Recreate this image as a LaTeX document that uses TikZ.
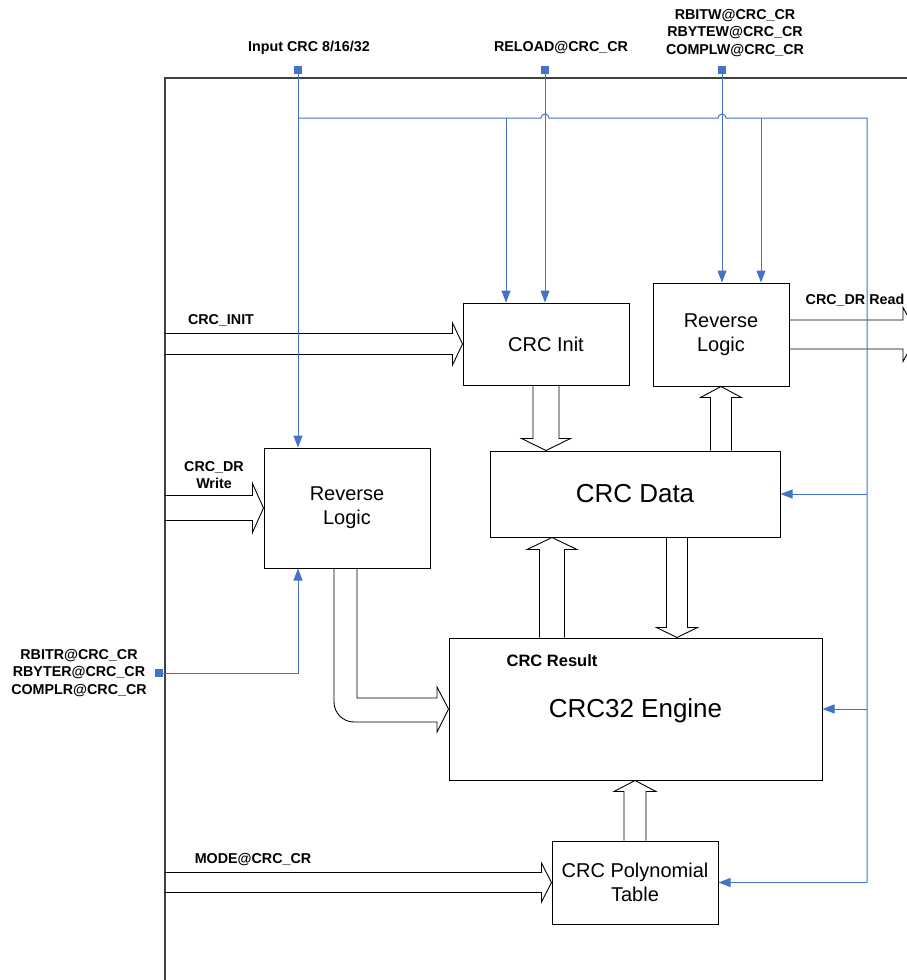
\documentclass[tikz,border=0pt]{standalone}
\usepackage{fontspec}
\setmainfont{Liberation Sans}
\usetikzlibrary{calc,arrows.meta}
\definecolor{linkblue}{HTML}{4472C4}
\definecolor{frameline}{HTML}{404040}

% open-ended hollow block arrow: start, tip, shaft half-width, head half-width, head length
\newcommand\hollowarrow[5]{%
  \coordinate (ha-b) at ($(#2)!#5!(#1)$);
  \draw[blockline] ($(#1)!#3!90:(#2)$) -- ($(ha-b)!#3!90:(#2)$) -- ($(ha-b)!#4!90:(#2)$)
    -- (#2) -- ($(ha-b)!#4!-90:(#2)$) -- ($(ha-b)!#3!-90:(#2)$) -- ($(#1)!#3!-90:(#2)$);
}

\begin{document}
\begin{tikzpicture}[x=1pt,y=-1pt,
  blockline/.style={draw=black,line width=0.9pt,line join=miter},
  unit/.style={draw=black,line width=1pt,fill=white,align=center,inner sep=0pt,
    font=\fontsize{20}{24}\selectfont},
  bigunit/.style={unit,font=\fontsize{26}{30}\selectfont},
  sig/.style={align=center,inner sep=0pt,font=\bfseries\fontsize{14.3}{17.5}\selectfont},
  bluelink/.style={draw=linkblue,line width=1pt},
  bluetip/.style={bluelink,-{Triangle[length=12pt,width=9pt]}},
  marker/.style={rectangle,fill=linkblue,minimum size=8pt,inner sep=0pt}]

\clip (0,0) rectangle (907,980);
\fill[white] (0,0) rectangle (907,980);

% outer frame
\draw[frameline,line width=1.3pt] (165,980) -- (165,78) -- (907,78);

% functional blocks
\node[unit,minimum width=166pt,minimum height=82pt]  (init) at (546,344) {CRC Init};
\node[unit,minimum width=136pt,minimum height=103pt] (rlt)  at (721,334.5) {Reverse\\Logic};
\node[unit,minimum width=166pt,minimum height=120pt] (rl)   at (347,508) {Reverse\\Logic};
\node[bigunit,minimum width=290pt,minimum height=86pt] (data) at (635,494) {CRC Data};
\node[bigunit,minimum width=373pt,minimum height=142pt] (eng) at (635.5,709) {};
\node[inner sep=0pt,font=\fontsize{26}{30}\selectfont] (engtxt) at (635.5,711) {CRC32 Engine};
\node[unit,minimum width=166pt,minimum height=83pt]  (poly) at (635,882.5) {CRC Polynomial\\Table};
\node[sig,font=\bfseries\fontsize{16.5}{20}\selectfont] (res) at (552,661) {CRC Result};

% signal labels
\node[sig] (lin)   at (309,48) {Input CRC 8/16/32};
\node[sig] (lrel)  at (561,48) {RELOAD@CRC\_CR};
\node[sig] (lwr)   at (735,33) {RBITW@CRC\_CR\\RBYTEW@CRC\_CR\\COMPLW@CRC\_CR};
\node[sig] (lrd)   at (79,673) {RBITR@CRC\_CR\\RBYTER@CRC\_CR\\COMPLR@CRC\_CR};
\node[sig] (linit) at (221,320) {CRC\_INIT};
\node[sig] (lwrite) at (214,475) {CRC\_DR\\Write};
\node[sig] (lread) at (855,300) {CRC\_DR Read};
\node[sig] (lmode) at (253,860) {MODE@CRC\_CR};

% input ports
\node[marker] (mIn)  at (298,70) {};
\node[marker] (mRel) at (545,70) {};
\node[marker] (mWr)  at (722,70) {};
\node[marker] (mRd)  at (159,673) {};

% hollow data arrows
\coordinate (initIn) at (165,344);
\hollowarrow{initIn}{init.west}{10.5pt}{21pt}{10pt}
\coordinate (wrIn) at (165,508);
\hollowarrow{wrIn}{rl.west}{12.5pt}{24.5pt}{11pt}
\coordinate (modeIn) at (165,882.5);
\hollowarrow{modeIn}{poly.west}{10pt}{19.5pt}{10pt}
\coordinate (i2d) at (init.south |- data.north);
\hollowarrow{init.south}{i2d}{13pt}{24.5pt}{12pt}
\coordinate (d2r) at (rlt.south |- data.north);
\hollowarrow{d2r}{rlt.south}{10.5pt}{20.5pt}{11pt}
\coordinate (e2dS) at (552,0 |- eng.north);
\coordinate (e2dT) at (552,0 |- data.south);
\hollowarrow{e2dS}{e2dT}{12.5pt}{25pt}{12pt}
\coordinate (d2eS) at (677,0 |- data.south);
\coordinate (d2eT) at (677,0 |- eng.north);
\hollowarrow{d2eS}{d2eT}{10.5pt}{20.5pt}{10pt}
\coordinate (p2e) at (poly.north |- eng.south);
\hollowarrow{poly.north}{p2e}{11pt}{21pt}{11pt}
\coordinate (rdOut) at (918,0 |- rlt.east);
\hollowarrow{rlt.east}{rdOut}{14.5pt}{27pt}{15pt}

% bent arrow from the write-side reverse logic into the engine
\draw[blockline] (357,0 |- rl.south) -- (357,698) -- (437,698) -- (437,687) -- (eng.west)
  -- (437,732) -- (437,722) [rounded corners=20pt] -- (334,722) [sharp corners] -- (334,0 |- rl.south);

% control and input lines
\draw[bluetip] (mIn.center) -- (mIn.center |- rl.north);
\draw[bluelink] (298,118) -- (541,118) arc[start angle=180,end angle=360,radius=4]
  -- (718,118) arc[start angle=180,end angle=360,radius=4]
  -- (867,118) -- (867,0 |- poly.east);
\draw[bluetip] (867,0 |- poly.east) -- (poly.east);
\draw[bluetip] (506,118) -- (506,0 |- init.north);
\draw[bluetip] (761,118) -- (761,0 |- rlt.north);
\draw[bluetip] (mRel.center) -- (mRel.center |- init.north);
\draw[bluetip] (mWr.center) -- (mWr.center |- rlt.north);
\draw[bluetip] (867,0 |- data.east) -- (data.east);
\draw[bluetip] (867,0 |- eng.east) -- (eng.east);
\draw[bluetip] (mRd.center) -- (298,0 |- mRd.center) -- (298,0 |- rl.south);
\end{tikzpicture}
\end{document}
